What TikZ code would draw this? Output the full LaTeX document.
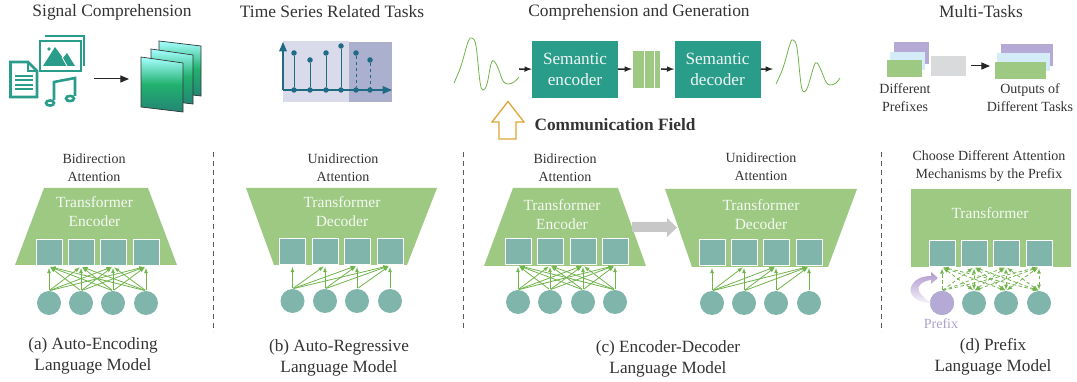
\documentclass[tikz,border=0pt]{standalone}
\usepackage{fontspec}
\setmainfont{Liberation Serif}
\usepackage{tikz}
\usetikzlibrary{arrows,shapes,positioning}
\definecolor{leafgreen}{HTML}{9DC982}
\definecolor{arrowgreen}{HTML}{70B44C}
\definecolor{unitteal}{HTML}{7FB5AB}
\definecolor{boxteal}{HTML}{2A9D8A}
\definecolor{inktext}{HTML}{333333}
\definecolor{softpurple}{HTML}{B5AAD5}
\definecolor{softblue}{HTML}{D3ECF8}
\definecolor{softgrey}{HTML}{D9DADB}
\definecolor{seriesblue}{HTML}{1F6A85}
\definecolor{paneblue}{HTML}{D9DAEA}
\definecolor{panedark}{HTML}{ACB0CF}
\definecolor{fieldgold}{HTML}{E0A535}
\tikzset{
  titletext/.style={text=inktext,font=\fontsize{17.4}{21}\selectfont,inner sep=0pt},
  smalltext/.style={text=inktext,font=\fontsize{14}{18}\selectfont,align=center,inner sep=0pt},
  captext/.style={text=inktext,font=\fontsize{17.2}{21}\selectfont,align=center,inner sep=0pt},
  whitetext/.style={text=white!90!leafgreen,font=\fontsize{15.5}{19}\selectfont,align=center,inner sep=0pt},
  unitbox/.style={rectangle,fill=unitteal,draw=white,line width=1pt,inner sep=0pt,minimum size=26pt},
  unitdot/.style={circle,fill=unitteal,inner sep=0pt,minimum size=24pt},
  attn/.style={line width=.8pt,arrowgreen,-latex,shorten <=1pt,shorten >=1.5pt},
  sembox/.style={rectangle,fill=boxteal,text=white!92!boxteal,font=\fontsize{17.2}{21.5}\selectfont,align=center,inner sep=0pt,minimum width=86pt,minimum height=57pt},
  flow/.style={line width=1.5pt,black!85,-latex},
  wave/.style={line width=.8pt,arrowgreen},
  sheet/.style={draw=black!80,line width=.7pt,top color=cyan!35!white,bottom color=boxteal!85!black,middle color=boxteal!80!green,shading angle=0},
  stem/.style={line width=1pt,seriesblue},
  stemdot/.style={circle,fill=seriesblue,inner sep=0pt,minimum size=5.5pt},
  iconline/.style={draw=boxteal,line width=2.6pt},
  splitline/.style={line width=.8pt,black!65,dash pattern=on 5pt off 4pt}
}
\begin{document}
\begin{tikzpicture}[x=1pt,y=-1pt]
\useasboundingbox (0,0) rectangle (1077,382);
% titles
\node[titletext] (titlea) at (112,12) {Signal Comprehension};
\node[titletext] (titleb) at (332,12) {Time Series Related Tasks};
\node[titletext] (titlec) at (639,12) {Comprehension and Generation};
\node[titletext] (titled) at (981,12) {Multi-Tasks};
% signal icons
\draw[iconline,fill=white] (10.5,62)--(28,62)--(37,71)--(37,97)--(10.5,97)--cycle;
\draw[draw=boxteal,line width=1.4pt] (28,62)--(28,71)--(37,71);
\foreach \y in {76,80,85,89} \draw[draw=boxteal,line width=1.4pt] (15,\y)--(33,\y);
\draw[iconline] (45,36)--(84,36)--(84,66);
\draw[iconline,fill=white] (40,41)--(81,41)--(81,71)--(40,71)--cycle;
\fill[boxteal] (43,66)--(55,47)--(63,58)--(67,53)--(75,66)--cycle;
\fill[boxteal] (49,49) circle (1.8);
\draw[white,line width=.8pt] (62,57)--(67,66);
\draw[iconline] (54,100)--(54,82)--(75,78)--(75,96);
\draw[iconline] (50,103) ellipse (4 and 2.6);
\draw[iconline] (70,98.5) ellipse (4 and 2.6);
\coordinate (stackin) at (94,79);
\coordinate (stackout) at (129,79);
\draw[line width=1pt,black!85,-triangle 45] (stackin)--(stackout);
\shade[sheet] (159,41)--(201,46)--(201,96)--(159,91)--cycle;
\shade[sheet] (151,49)--(193,55)--(193,104)--(151,99)--cycle;
\shade[sheet] (141,57)--(183,63)--(183,112)--(141,107)--cycle;
% time series
\fill[paneblue] (283,41) rectangle (349,102);
\fill[panedark] (349,42) rectangle (392,102);
\coordinate (orig) at (283,90);
\coordinate (xend) at (392,90);
\coordinate (yend) at (283,42);
\foreach \i/\x/\y/\s in {1/294/53/solid,2/310/60/solid,3/326/53/solid,4/341/46/solid,5/356/53/dashed,6/370/60/dashed}{
  \node[stemdot] (top\i) at (\x,\y) {};
  \node[stemdot] (base\i) at (\x,90) {};
  \draw[stem,\s] (top\i)--(base\i);
}
\draw[stem,line width=1.2pt,-triangle 45] (orig)--(xend);
\draw[stem,line width=1.2pt,-triangle 45] (orig)--(yend);
% communication strip
\draw[wave] plot[smooth,tension=.6] coordinates {(454,83) (461,66) (468,42) (472,38) (476,46) (480,82) (483,90) (487,84) (491,64) (494,61) (498,68) (503,81) (508,84) (514,82) (519,77)};
\draw[wave] plot[smooth,tension=.6] coordinates {(776,84) (783,68) (790,44) (793,40) (797,48) (801,84) (804,92) (808,86) (814,66) (817,63) (821,70) (826,82) (830,85) (836,83) (840,78)};
\node[sembox] (enc) at (575,69.5) {Semantic\\encoder};
\node[sembox] (dec) at (717.5,69.5) {Semantic\\decoder};
\fill[leafgreen] (633,51) rectangle (643.5,88);
\fill[leafgreen] (644.5,51) rectangle (654,88);
\fill[leafgreen] (655,51) rectangle (660,88);
\coordinate (wavein) at (519,69);
\coordinate (latentin) at (632,69);
\coordinate (latentout) at (661,69);
\coordinate (waveout) at (773,69);
\draw[flow] (wavein)--(enc);
\draw[flow] (enc)--(latentin);
\draw[flow] (latentout)--(dec);
\draw[flow] (dec)--(waveout);
\draw[line width=1.3pt,draw=fieldgold,fill=white] (508,101.5)--(524,122)--(516,122)--(516,139)--(499,139)--(499,122)--(492,122)--cycle;
\node[text=inktext,font=\fontsize{17.3}{21}\selectfont\bfseries,inner sep=0pt] (commfield) at (615,125) {Communication Field};
% multi tasks
\fill[softpurple] (894,42) rectangle (929,64);
\fill[softblue] (890,52) rectangle (925,70);
\fill[leafgreen] (887,60) rectangle (922,77);
\fill[softgrey] (931,56) rectangle (966,76);
\fill[softpurple] (1001,44) rectangle (1053,66);
\fill[softblue] (997,53) rectangle (1050,71);
\fill[leafgreen] (995,62) rectangle (1046,79);
\coordinate (taskin) at (971,66);
\coordinate (taskout) at (990,66);
\draw[line width=1pt,black!85,-triangle 45] (taskin)--(taskout);
\node[smalltext] (prefixes) at (905,98) {Different\\Prefixes};
\node[smalltext] (outputs) at (1030,98) {Outputs of\\Different Tasks};
% separators
\draw[splitline] (213.5,152)--(213.5,332);
\draw[splitline] (463,152)--(463,332);
\draw[splitline] (881.5,152)--(881.5,332);
% blocks
\fill[leafgreen] (44,188)--(148,188)--(177,265)--(15,265)--cycle;
\fill[leafgreen] (246,188)--(437,188)--(407,265)--(274,265)--cycle;
\fill[leafgreen] (513,188)--(618,188)--(646,266)--(484,266)--cycle;
\fill[leafgreen] (665,189)--(857,189)--(828,267)--(692,267)--cycle;
\fill[leafgreen] (911,189) rectangle (1071,267);
\fill[black!22] (632,222)--(667,222)--(667,218)--(677,227.5)--(667,237)--(667,232)--(632,232)--cycle;
\foreach \p/\xa/\xb/\xc/\xd/\ys/\yc in {a/49/81/113/146/253/303,b/292.5/325/357/390/252/301,c/518/550/583/615/252/302,d/712/744/776/809/253/303,e/942/974/1006/1039/253.5/303}{
  \foreach \i/\x in {1/\xa,2/\xb,3/\xc,4/\xd}{
    \node[unitbox] (s\p\i) at (\x,\ys) {};
    \node[unitdot] (c\p\i) at (\x,\yc) {};
  }
}
\node[unitdot,fill=softpurple] (prefixdot) at (ce1) {};
% attention links
\foreach \p in {a,c}
  \foreach \i in {1,...,4}
    \foreach \j in {1,...,4}
      \draw[attn] (c\p\i.north)--(s\p\j.south);
\foreach \p in {b,d}
  \foreach \i in {1,...,4}
    \foreach \j in {\i,...,4}
      \draw[attn] (c\p\i.north)--(s\p\j.south);
\foreach \j in {1,...,4}
  \draw[attn,dash pattern=on 3.5pt off 2.5pt] (prefixdot.north)--(se\j.south);
\foreach \i in {2,3,4}
  \foreach \j in {1,...,4}
    \draw[attn,latex-latex,dash pattern=on 3.5pt off 2.5pt] (ce\i.north)--(se\j.south);
\shade[top color=softpurple!90!violet,bottom color=softpurple!15!white,shading angle=0] (931,303) .. controls (915,303) and (907,293) .. (912,285) .. controls (915,279) and (923,276) .. (931,276)--(931,272)--(938,278)--(931,284)--(931,280) .. controls (923,281) and (916,286) .. (919,291) .. controls (921,296) and (926,299) .. (931,303)--cycle;
\node[smalltext,text=softpurple!95!black] (prefixlabel) at (941,324) {Prefix};
% block labels
\node[smalltext] (attna) at (94,168) {Bidirection\\Attention};
\node[smalltext] (attnb) at (343,168) {Unidirection\\Attention};
\node[smalltext] (attnc) at (565,167.5) {Bidirection\\Attention};
\node[smalltext] (attnd) at (761,167) {Unidirection\\Attention};
\node[smalltext] (attne) at (989,166.5) {Choose Different Attention\\Mechanisms by the Prefix};
\node[whitetext] (blocka) at (94.5,211.5) {Transformer\\Encoder};
\node[whitetext] (blockb) at (342,211.5) {Transformer\\Decoder};
\node[whitetext] (blockc) at (562,214.5) {Transformer\\Encoder};
\node[whitetext] (blockd) at (761,214.5) {Transformer\\Decoder};
\node[whitetext] (blocke) at (990,213) {Transformer};
% captions
\node[captext] (capa) at (93,356) {(a) Auto-Encoding\\Language Model};
\node[captext] (capb) at (339,358) {(b) Auto-Regressive\\Language Model};
\node[captext] (capc) at (668,358.5) {(c) Encoder-Decoder\\Language Model};
\node[captext] (capd) at (993,356.5) {(d) Prefix\\Language Model};
\end{tikzpicture}
\end{document}
